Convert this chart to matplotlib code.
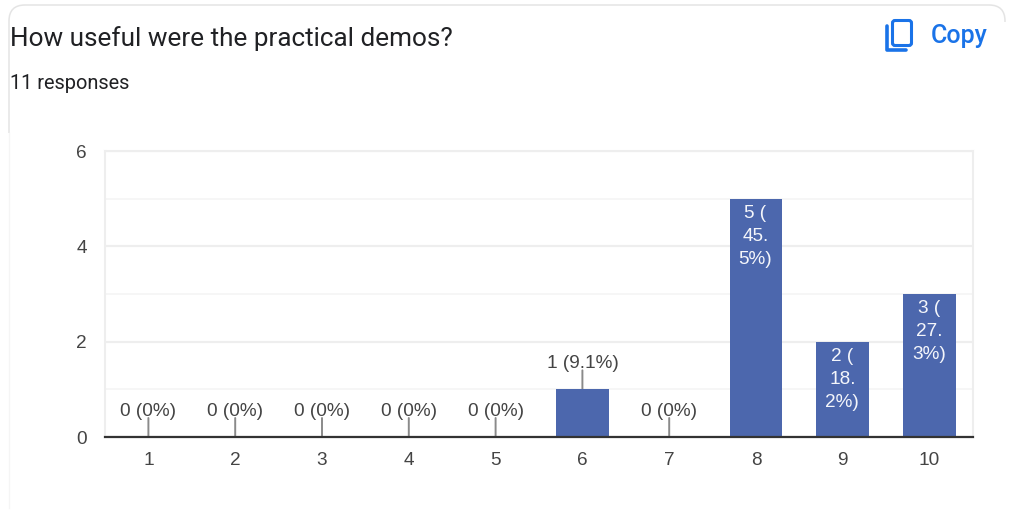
import matplotlib.pyplot as plt
from matplotlib.patches import FancyBboxPatch, Rectangle

categories = ['1', '2', '3', '4', '5', '6', '7', '8', '9', '10']
counts = [0, 0, 0, 0, 0, 1, 0, 5, 2, 3]
labels = ['0 (0%)', '0 (0%)', '0 (0%)', '0 (0%)', '0 (0%)', '1 (9.1%)', '0 (0%)',
          '5 (\n45.\n5%)', '2 (\n18.\n2%)', '3 (\n27.\n3%)']
y_ticks = [0, 2, 4, 6]
y_minor = [1, 3, 5]

W, H = 1013, 518
BAR = '#4c67ad'
TEXT = '#444444'
BLUE = '#1a73e8'

plt.rcParams['font.family'] = ['Liberation Sans', 'DejaVu Sans']
fig = plt.figure(figsize=(W / 100, H / 100), dpi=100, facecolor='white')

# --- page furniture, in pixel coordinates ---
bg = fig.add_axes([0, 0, 1, 1])
bg.set_xlim(0, W)
bg.set_ylim(H, 0)
bg.axis('off')

# card outline, only the top and left edges show
bg.add_patch(FancyBboxPatch((9, 5), 996, 600, boxstyle='round,pad=0,rounding_size=16',
                            fc='white', ec='#e4e4e4', lw=1.1))
# hide the outline where the reference fades out
bg.add_patch(Rectangle((0, 133), W, H - 133, fc='white', ec='none', zorder=2))
bg.add_patch(Rectangle((998, 22), 15, 120, fc='white', ec='none', zorder=2))
bg.plot([9, 9], [133, 508], color='#f5f5f5', lw=1, zorder=3)

bg.text(10, 38.5, 'How useful were the practical demos?', family='Roboto', fontsize=18.8,
        color='#202124', va='center', ha='left', zorder=3)
bg.text(10, 83.5, '11 responses', family='Roboto', fontsize=14.4,
        color='#202124', va='center', ha='left', zorder=3)

# copy icon
bg.add_patch(FancyBboxPatch((892.5, 20.5), 19, 25, boxstyle='round,pad=0,rounding_size=2.5',
                            fc='none', ec=BLUE, lw=2.2, zorder=3))
bg.plot([886.5, 886.5, 906], [26, 50, 50], color=BLUE, lw=2.6, solid_capstyle='round',
        solid_joinstyle='round', zorder=3)
bg.text(931, 35.5, 'Copy', family='Roboto', fontsize=18, fontweight='medium', color=BLUE,
        va='center', ha='left', zorder=3)

# --- chart ---
ax = fig.add_axes([105 / W, 1 - 437 / H, (973 - 105) / W, (437 - 151) / H])
ax.set_facecolor('none')
x = list(range(len(categories)))
ax.set_xlim(-0.5, len(categories) - 0.5)
ax.set_ylim(0, 6)

ax.set_yticks(y_ticks)
ax.set_yticks(y_minor, minor=True)
ax.set_xticks(x)
ax.set_xticklabels(categories)
ax.grid(True, axis='y', which='major', color='#eeeeee', lw=1.6)
ax.grid(True, axis='y', which='minor', color='#f6f6f6', lw=1.4)
ax.set_axisbelow(True)
ax.tick_params(axis='both', which='both', length=0)
ax.tick_params(axis='x', labelsize=13.7, labelcolor=TEXT, pad=10.5)
ax.tick_params(axis='y', labelsize=13.7, labelcolor=TEXT, pad=13)

for side in ['top', 'left', 'right']:
    ax.spines[side].set_color('#eeeeee')
    ax.spines[side].set_linewidth(1.5)
ax.spines['bottom'].set_color('#333333')
ax.spines['bottom'].set_linewidth(1.6)
ax.spines['bottom'].set_zorder(5)

ax.bar(x, counts, width=0.61, color=BAR, zorder=3)

for xi, v, lab in zip(x, counts, labels):
    if v >= 2:
        ax.annotate(lab, xy=(xi, v), xytext=(-0.5, -6), textcoords='offset pixels',
                    ha='center', va='top', fontsize=13.7, color='#f4f6fb',
                    linespacing=1.46, zorder=4)
    else:
        ax.annotate('', xy=(xi, v), xytext=(0, 19), textcoords='offset pixels',
                    arrowprops=dict(arrowstyle='-', color='#8a8a8a', lw=1.4,
                                    shrinkA=0, shrinkB=0), zorder=2 if v else 4)
        ax.annotate(lab, xy=(xi, v), xytext=(0, 26), textcoords='offset pixels',
                    ha='center', va='center', fontsize=13.7, color=TEXT, zorder=4)

fig.savefig('out.png', dpi=100, facecolor='white')
